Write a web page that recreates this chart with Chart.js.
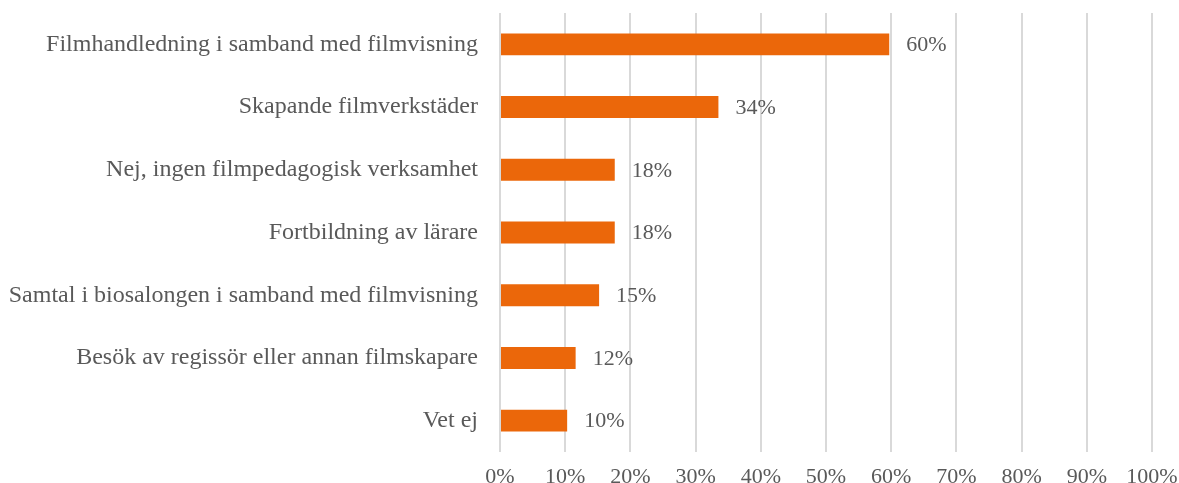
<!DOCTYPE html>
<html>
<head>
<meta charset="utf-8">
<script src="https://cdn.jsdelivr.net/npm/chart.js@4/dist/chart.umd.min.js"></script>
<style>
  html, body { margin: 0; padding: 0; background: #fff; }
  #wrap { width: 1179px; height: 483px; position: relative; }
</style>
</head>
<body>
<div id="wrap"><canvas id="chart"></canvas></div>
<script>
// Categories, top to bottom
const categories = [
    'Filmhandledning i samband med filmvisning',
    'Skapande filmverkstäder',
    'Nej, ingen filmpedagogisk verksamhet',
    'Fortbildning av lärare',
    'Samtal i biosalongen i samband med filmvisning',
    'Besök av regissör eller annan filmskapare',
    'Vet ej'
];

// Share of respondents (%)
const shares = [59.7, 33.5, 17.6, 17.6, 15.2, 11.6, 10.3];

// x-axis tick values
const xTicks = [0, 10, 20, 30, 40, 50, 60, 70, 80, 90, 100];

const textColor = '#595959';
const fontFamily = '"Liberation Serif", "Times New Roman", serif';

// Draw the percentage next to each bar
const valueLabels = {
    id: 'valueLabels',
    afterDatasetsDraw(chart) {
        const ctx = chart.ctx;
        const meta = chart.getDatasetMeta(0);
        ctx.save();
        ctx.font = '22px ' + fontFamily;
        ctx.fillStyle = textColor;
        ctx.textAlign = 'left';
        ctx.textBaseline = 'middle';
        meta.data.forEach((bar, i) => {
            ctx.fillText(Math.round(shares[i]) + '%', bar.x + 17, bar.y + 1);
        });
        ctx.restore();
    }
};

new Chart(document.getElementById('chart'), {
    type: 'bar',
    data: {
        labels: categories,
        datasets: [{
            data: shares,
            backgroundColor: '#EB670A',
            borderWidth: 0,
            categoryPercentage: 1,
            barPercentage: 0.35,
        }]
    },
    options: {
        indexAxis: 'y',
        responsive: true,
        maintainAspectRatio: false,
        animation: false,
        layout: {
            padding: { top: 13, right: 27, bottom: 0, left: 0 }
        },
        plugins: {
            legend: { display: false },
            tooltip: { enabled: false },
        },
        scales: {
            x: {
                min: 0,
                max: 100,
                afterBuildTicks(scale) {
                    scale.ticks = xTicks.map(v => ({ value: v }));
                },
                afterFit(scale) {
                    scale.height = 31;
                    scale.paddingLeft = 0;
                    scale.paddingRight = 0;
                },
                grid: {
                    color: '#D9D9D9',
                    lineWidth: 2,
                    drawTicks: false,
                },
                border: { display: false },
                ticks: {
                    padding: 12,
                    color: textColor,
                    font: { family: fontFamily, size: 22 },
                    callback: v => v + '%',
                    maxRotation: 0,
                },
            },
            y: {
                afterFit(scale) {
                    scale.width = 500;
                    scale.paddingTop = 0;
                    scale.paddingBottom = 0;
                },
                grid: { display: false, drawTicks: false },
                border: { display: false },
                ticks: {
                    padding: 22,
                    color: textColor,
                    font: { family: fontFamily, size: 24 },
                },
            },
        },
    },
    plugins: [valueLabels]
});
</script>
</body>
</html>
